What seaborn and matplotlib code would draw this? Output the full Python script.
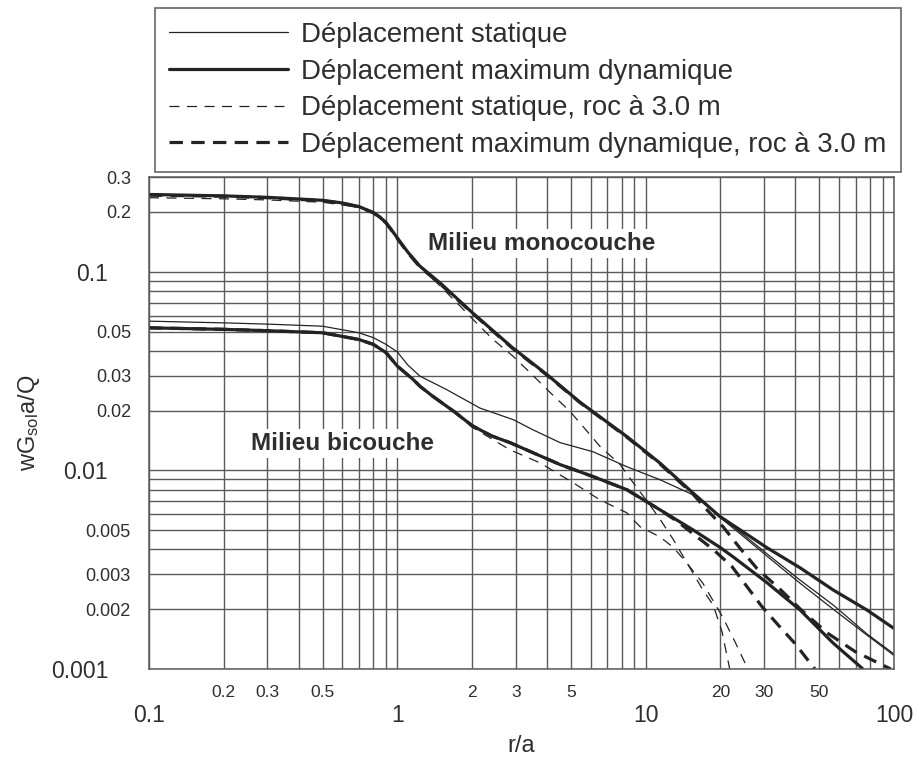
import numpy as np
import pandas as pd
import matplotlib
matplotlib.use("Agg")
import matplotlib.pyplot as plt
import seaborn as sns
from matplotlib.ticker import FixedLocator, FixedFormatter

# ---- data: normalised vertical displacement wG/Q·a versus r/a ----
# Milieu monocouche
mono_dyn_r = [0.1, 0.2, 0.3, 0.5, 0.6, 0.7, 0.8, 0.85, 0.9, 0.95, 1.0, 1.1, 1.23, 1.5, 2.0, 2.9, 4.0,
              5.45, 8.4, 11.4, 15.5, 19.9, 24, 30.8, 41.9, 56.9, 77.9, 100]
mono_dyn_w = [0.245, 0.241, 0.237, 0.229, 0.222, 0.213, 0.199, 0.189, 0.177, 0.162, 0.148, 0.126, 0.107,
              0.087, 0.0624, 0.0416, 0.0304, 0.0220, 0.0148, 0.0109, 0.0077, 0.00586, 0.00502,
              0.00408, 0.00323, 0.0025, 0.00198, 0.0016]

mono_sta_r = [0.1, 0.2, 0.3, 0.5, 0.6, 0.7, 0.8, 0.85, 0.9, 0.95, 1.0, 1.1, 1.23, 1.5, 2.0, 2.9, 4.0,
              5.45, 8.4, 11.4, 15.5, 19.9, 24, 30.8, 41.9, 56.9, 77.9, 100]
mono_sta_w = [0.245, 0.241, 0.237, 0.229, 0.222, 0.213, 0.199, 0.189, 0.177, 0.162, 0.148, 0.126, 0.107,
              0.087, 0.0624, 0.0416, 0.0304, 0.0220, 0.0148, 0.0109, 0.0077, 0.0058, 0.0048,
              0.0037, 0.0027, 0.0020, 0.00148, 0.00117]

mono_sta_roc_r = [0.1, 0.2, 0.3, 0.5, 0.7, 0.8, 0.9, 1.0, 1.23, 1.49, 1.79, 2.09, 2.43, 2.92, 3.42,
                  4.12, 4.96, 5.6, 6.55, 7.89, 8.89, 10.3, 11.4, 12.9, 14.7, 17, 18.7, 20.3, 21.8]
mono_sta_roc_w = [0.236, 0.233, 0.230, 0.224, 0.211, 0.197, 0.175, 0.146, 0.106, 0.0847, 0.0671,
                  0.055, 0.0456, 0.0376, 0.0311, 0.0247, 0.0198, 0.0166, 0.0132, 0.0107, 0.0087,
                  0.0068, 0.0057, 0.0045, 0.0034, 0.0025, 0.0021, 0.00154, 0.001]

mono_dyn_roc_r = [0.1, 0.2, 0.3, 0.5, 0.6, 0.7, 0.8, 0.85, 0.9, 0.95, 1.0, 1.1, 1.23, 1.5, 2.0, 2.9,
                  4.0, 5.45, 8.4, 11.4, 15.5, 17.5, 20.5, 24.2, 28.1, 35, 42, 53.8, 70, 97]
mono_dyn_roc_w = [0.243, 0.240, 0.236, 0.228, 0.221, 0.212, 0.198, 0.188, 0.176, 0.161, 0.147, 0.125,
                  0.106, 0.086, 0.0620, 0.0413, 0.0302, 0.0219, 0.0147, 0.0108, 0.0076, 0.0064,
                  0.0052, 0.0040, 0.0032, 0.0025, 0.0020, 0.00152, 0.00122, 0.001]

# Milieu bicouche
bi_sta_r = [0.1, 0.2, 0.3, 0.5, 0.7, 0.8, 0.9, 1.0, 1.1, 1.234, 1.58, 2.15, 2.93, 3.52, 4.52, 6.15,
            8.39, 11.4, 15.5, 19.9, 24, 30.8, 41.9, 56.9, 77.9, 100]
bi_sta_w = [0.0564, 0.0553, 0.0545, 0.0532, 0.0493, 0.0466, 0.0431, 0.0395, 0.034, 0.0298, 0.0255,
            0.0206, 0.018, 0.016, 0.0138, 0.0124, 0.01044, 0.00898, 0.00754, 0.0059, 0.0049,
            0.0038, 0.0028, 0.0021, 0.0015, 0.00119]

bi_dyn_r = [0.1, 0.2, 0.3, 0.5, 0.7, 0.8, 0.9, 1.0, 1.157, 1.234, 1.39, 1.7, 2.0, 2.4, 2.84, 4.52,
            6.15, 8.39, 11.4, 15.5, 19.9, 22.5, 30.8, 41.9, 56.9, 75]
bi_dyn_w = [0.0522, 0.0513, 0.0505, 0.0493, 0.0456, 0.0431, 0.0392, 0.0335, 0.0287, 0.0265, 0.0236,
            0.0197, 0.0168, 0.0149, 0.0138, 0.0107, 0.0093, 0.008, 0.00634, 0.00502, 0.0041,
            0.00367, 0.00272, 0.00198, 0.00135, 0.001]

bi_sta_roc_r = [0.1, 0.2, 0.3, 0.5, 0.7, 0.8, 0.9, 1.0, 1.157, 1.234, 1.39, 1.7, 2.0, 2.4, 2.84,
                3.76, 5.1, 6.55, 8.39, 9.5, 11.4, 12.9, 14.7, 17, 20.4, 22.9, 25.8]
bi_sta_roc_w = [0.0520, 0.0511, 0.0503, 0.0491, 0.0454, 0.0429, 0.0390, 0.0333, 0.0285, 0.0263,
                0.0234, 0.0195, 0.0165, 0.0144, 0.0127, 0.0109, 0.00867, 0.0071, 0.00612, 0.0052,
                0.00463, 0.0041, 0.0034, 0.0027, 0.00183, 0.00137, 0.001]

bi_dyn_roc_r = [0.1, 0.2, 0.3, 0.5, 0.7, 0.8, 0.9, 1.0, 1.157, 1.234, 1.39, 1.7, 2.0, 2.4, 2.84, 4.52,
                6.15, 8.39, 11.4, 13.5, 15.5, 18.7, 22.3, 29.4, 34.4, 40, 48]
bi_dyn_roc_w = [0.0522, 0.0513, 0.0505, 0.0493, 0.0456, 0.0431, 0.0392, 0.0335, 0.0287, 0.0265,
                0.0236, 0.0197, 0.0168, 0.0149, 0.0138, 0.0107, 0.0093, 0.008, 0.00634, 0.0055,
                0.0048, 0.0040, 0.00327, 0.00206, 0.00165, 0.00134, 0.001]

legend_labels = ["Déplacement statique",
                 "Déplacement maximum dynamique",
                 "Déplacement statique, roc à 3.0 m",
                 "Déplacement maximum dynamique, roc à 3.0 m"]

x_major = [0.1, 1, 10, 100]
x_minor_labels = {0.2: "0.2", 0.3: "0.3", 0.5: "0.5", 2: "2", 3: "3", 5: "5",
                  20: "20", 30: "30", 50: "50"}
y_major = [0.001, 0.01, 0.1]
y_minor_labels = {0.002: "0.002", 0.003: "0.003", 0.005: "0.005", 0.02: "0.02", 0.03: "0.03",
                  0.05: "0.05", 0.2: "0.2", 0.3: "0.3"}

# ---- style ----
sns.set_theme(style="white")
plt.rcParams["font.family"] = ["Liberation Sans", "DejaVu Sans"]
plt.rcParams["mathtext.fontset"] = "custom"
plt.rcParams["mathtext.rm"] = "Liberation Sans"
plt.rcParams["mathtext.it"] = "Liberation Sans"

INK = "#232323"
TXT = "#2e2e2e"
GRID = "#5a5a5a"

fig = plt.figure(figsize=(9.17, 7.62), dpi=100)
ax = fig.add_axes([149 / 917, 1 - 669 / 762, 745 / 917, 492 / 762])

thin, thick = 0.9, 2.3
THIN_DASH = (8, 6)
THICK_DASH = (4.2, 2.6)
series = [
    (mono_sta_r, mono_sta_w, thin, None),
    (bi_sta_r, bi_sta_w, thin, None),
    (mono_sta_roc_r, mono_sta_roc_w, thin, THIN_DASH),
    (bi_sta_roc_r, bi_sta_roc_w, thin, THIN_DASH),
    (mono_dyn_r, mono_dyn_w, thick, None),
    (bi_dyn_r, bi_dyn_w, thick, None),
    (mono_dyn_roc_r, mono_dyn_roc_w, thick, THICK_DASH),
    (bi_dyn_roc_r, bi_dyn_roc_w, thick, THICK_DASH),
]
for r, w, lw, dash in series:
    df = pd.DataFrame({"r": r, "w": w})
    sns.lineplot(data=df, x="r", y="w", ax=ax, color=INK, lw=lw,
                 estimator=None, sort=False, legend=False)
    l = ax.lines[-1]
    l.set_solid_capstyle("butt")
    l.set_solid_joinstyle("round")
    if dash is not None:
        l.set_dashes(dash)
        l.set_dash_capstyle("butt")

ax.set_xscale("log")
ax.set_yscale("log")
ax.set_xlim(0.1, 100)
ax.set_ylim(0.001, 0.3)

# ticks
ax.xaxis.set_major_locator(FixedLocator(x_major))
ax.xaxis.set_major_formatter(FixedFormatter([f"{v:g}" for v in x_major]))
x_minor = [round(m * d, 6) for d in (0.1, 1, 10) for m in range(2, 10)]
ax.xaxis.set_minor_locator(FixedLocator(x_minor))
ax.xaxis.set_minor_formatter(FixedFormatter([x_minor_labels.get(v, "") for v in x_minor]))

ax.yaxis.set_major_locator(FixedLocator(y_major))
ax.yaxis.set_major_formatter(FixedFormatter([f"{v:g}" for v in y_major]))
y_minor = [round(m * d, 6) for d in (0.001, 0.01) for m in range(2, 10)] + [0.2, 0.3]
ax.yaxis.set_minor_locator(FixedLocator(y_minor))
ax.yaxis.set_minor_formatter(FixedFormatter([y_minor_labels.get(v, "") for v in y_minor]))

ax.tick_params(axis="x", which="major", length=17.5, width=1.1, color=GRID, labelsize=16.5,
               labelcolor=TXT, pad=8)
ax.tick_params(axis="x", which="minor", length=9.5, width=1.1, color=GRID, labelsize=12.5,
               labelcolor=TXT, pad=2)
ax.tick_params(axis="y", which="major", length=17.5, width=1.1, color=GRID, labelsize=16.5,
               labelcolor=TXT, pad=12)
ax.tick_params(axis="y", which="minor", length=9.5, width=1.1, color=GRID, labelsize=13,
               labelcolor=TXT, pad=3.5)

ax.grid(True, which="both", color=GRID, lw=1.0)
ax.set_axisbelow(True)
for s in ax.spines.values():
    s.set_color(GRID)
    s.set_linewidth(1.1)

ax.set_xlabel("r/a", fontsize=17, color=TXT)
ax.set_ylabel(r"w$\mathregular{G_{sol}}$a/Q", fontsize=17, color=TXT)
ax.xaxis.set_label_coords(0.5, -0.135)
ax.yaxis.set_label_coords(-0.143, 0.5)

# region labels
box = dict(facecolor="white", edgecolor="none", pad=2)
ax.text(3.83, 0.139, "Milieu monocouche", fontsize=17.5, fontweight="bold", color=TXT,
        ha="center", va="center", bbox=box, zorder=5)
ax.text(0.6, 0.01365, "Milieu bicouche", fontsize=17.5, fontweight="bold", color=TXT,
        ha="center", va="center", bbox=box, zorder=5)

# legend above the axes
handles = [
    plt.Line2D([], [], color=INK, lw=thin),
    plt.Line2D([], [], color=INK, lw=thick),
    plt.Line2D([], [], color=INK, lw=thin, dashes=THIN_DASH),
    plt.Line2D([], [], color=INK, lw=thick, dashes=THICK_DASH),
]
leg = fig.legend(handles, legend_labels, loc="upper left",
                 bbox_to_anchor=(155 / 917, 1 - 8 / 762), frameon=True, fancybox=False,
                 framealpha=1, edgecolor=GRID, fontsize=19.9, handlelength=4.3,
                 handletextpad=0.5, borderpad=0.5, labelspacing=0.39, borderaxespad=0)
leg.get_frame().set_linewidth(1.1)
for t in leg.get_texts():
    t.set_color(TXT)

fig.savefig("out.png", dpi=100)
